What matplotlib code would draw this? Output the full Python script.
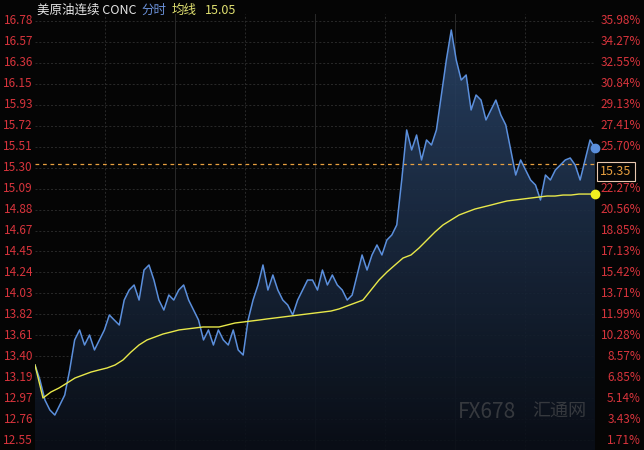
import matplotlib.pyplot as plt
import numpy as np
from matplotlib.patches import Polygon

plt.rcParams['font.family'] = ['Noto Sans CJK SC', 'DejaVu Sans']

# price levels (pixel trace converted to price)
def px(y):
    return 16.78 - (y - 21) * 4.23 / 419

price_px = [365, 380, 400, 410, 415, 405, 395, 370, 340, 330, 345, 335, 350, 340, 330, 315,
            320, 325, 300, 290, 285, 300, 270, 265, 280, 300, 310, 295, 300, 290, 285, 300,
            310, 320, 340, 330, 345, 330, 340, 345, 330, 350, 355, 320, 300, 285, 265, 290,
            275, 290, 300, 305, 315, 300, 290, 280, 280, 290, 270, 285, 275, 285, 290, 300,
            295, 275, 255, 270, 255, 245, 255, 240, 235, 225, 180, 130, 150, 135, 160, 140,
            145, 130, 95, 60, 30, 60, 80, 75, 110, 95, 100, 120, 110, 100, 115, 125, 150,
            175, 160, 170, 180, 185, 200, 175, 180, 170, 165, 160, 158, 165, 180, 160, 140, 148]
avg_px = [365, 398, 392, 388, 383, 378, 375, 372, 370, 368, 365, 360, 352, 345, 340, 337,
          334, 332, 330, 329, 328, 327, 327, 327, 325, 323, 322, 321, 320, 319, 318, 317,
          316, 315, 314, 313, 312, 311, 309, 306, 303, 300, 290, 280, 272, 265, 258, 255,
          248, 240, 232, 225, 220, 215, 212, 209, 207, 205, 203, 201, 200, 199, 198, 197,
          196, 196, 195, 195, 194, 194, 194]
price = [round(px(v), 3) for v in price_px]
avg = [round(px(v), 3) for v in avg_px]

left_labels = ['16.78', '16.57', '16.36', '16.15', '15.93', '15.72', '15.51', '15.30', '15.09',
               '14.88', '14.67', '14.45', '14.24', '14.03', '13.82', '13.61', '13.40', '13.19',
               '12.97', '12.76', '12.55']
right_labels = ['35.98%', '34.27%', '32.55%', '30.84%', '29.13%', '27.41%', '25.70%', '',
                '22.27%', '20.56%', '18.85%', '17.13%', '15.42%', '13.71%', '11.99%', '10.28%',
                '8.57%', '6.85%', '5.14%', '3.43%', '1.71%']
ref_line = 15.34
last_price = '15.35'

fig = plt.figure(figsize=(6.44, 4.5), dpi=100, facecolor='#050505')
ax = fig.add_axes([35 / 644, 0, 560 / 644, 436 / 450])
ax.set_facecolor('#050505')
ymin, ymax = px(450), px(14)
ax.set_ylim(ymin, ymax)
n = len(price)
xs = np.linspace(0, 1, n)
xa = np.linspace(0, 1, len(avg))
ax.set_xlim(0, 1.0)

levels = np.linspace(16.78, 12.55, 21)
for i, lv in enumerate(levels):
    ax.axhline(lv, color='#2a2a2a', lw=0.7, ls=(0, (2, 2)), zorder=0)
    fig.text(33 / 644, ax.transData.transform((0, lv))[1] / 450, left_labels[i],
             ha='right', va='center', color='#d8343c', fontsize=8.5)
    if right_labels[i]:
        fig.text(641 / 644, ax.transData.transform((0, lv))[1] / 450, right_labels[i],
                 ha='right', va='center', color='#d8343c', fontsize=8.5)
for k in range(1, 8):
    ax.axvline(k / 8, color='#2a2a2a', lw=0.7, ls='-' if k % 2 == 0 else (0, (2, 2)), zorder=0)
for s in ax.spines.values():
    s.set_visible(False)
ax.set_xticks([])
ax.set_yticks([])

# gradient fill under price
grad = np.linspace(0, 1, 256).reshape(-1, 1)
img = ax.imshow(grad, extent=[0, 1, ymin, max(price)], aspect='auto', origin='lower',
                cmap=plt.matplotlib.colors.LinearSegmentedColormap.from_list('g', ['#0a0f18', '#2a4468']),
                alpha=0.9, zorder=1)
poly = Polygon(list(zip(xs, price)) + [(1, ymin), (0, ymin)], closed=True, transform=ax.transData)
img.set_clip_path(poly)

ax.plot(xs, price, color='#5b8fdc', lw=1.1, zorder=3)
ax.plot(xa, avg, color='#e8e84a', lw=1.0, zorder=3)
ax.axhline(ref_line, color='#e8a040', lw=0.9, ls=(0, (3, 3)), zorder=2)
ax.plot([1], [price[-1]], 'o', color='#5b8fdc', ms=6, zorder=4, clip_on=False)
ax.plot([1], [avg[-1]], 'o', color='#f0f020', ms=6, zorder=4, clip_on=False)

yb = ax.transData.transform((0, ref_line))[1] / 450
fig.text(600 / 644, yb - 0.018, last_price, color='#e8a040', fontsize=9, va='center', ha='left',
         bbox=dict(boxstyle='square,pad=0.25', fc='#050505', ec='#e8c8b0', lw=0.8))

fig.text(37 / 644, 1 - 10 / 450, '美原油连续 CONC', color='#e6e6e6', fontsize=9, va='center')
fig.text(141 / 644, 1 - 10 / 450, '分时', color='#6a90d8', fontsize=9, va='center')
fig.text(172 / 644, 1 - 10 / 450, '均线', color='#e0e070', fontsize=9, va='center')
fig.text(205 / 644, 1 - 10 / 450, '15.05', color='#e0e070', fontsize=9, va='center')

fig.text(458 / 644, 38 / 450, 'FX678', color='#606060', fontsize=15, alpha=0.5, va='center')
fig.text(532 / 644, 38 / 450, '汇通网', color='#606060', fontsize=13, alpha=0.5, va='center')

fig.savefig('out.png', dpi=100, facecolor=fig.get_facecolor())
